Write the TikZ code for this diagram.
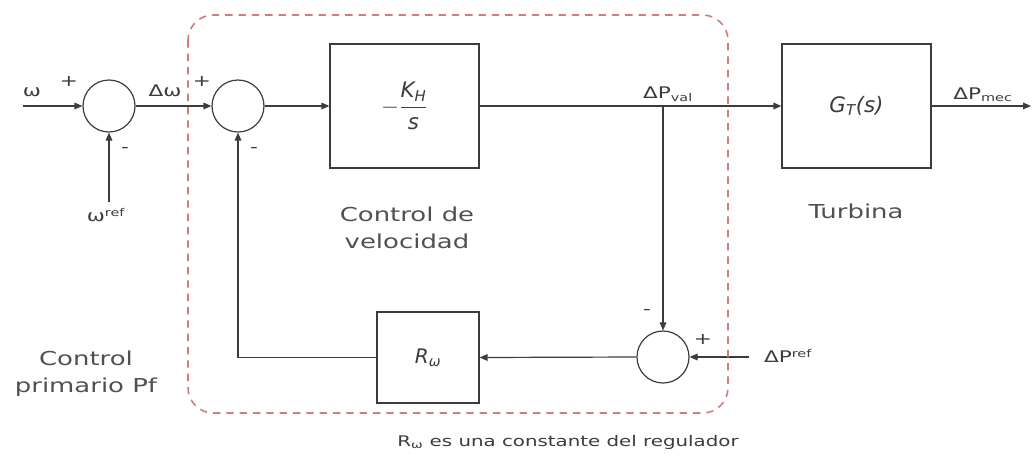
\documentclass[tikz,border=0pt]{standalone}
\usepackage{amsmath}
\usepackage{fontspec}
\setmainfont{DejaVu Sans}[FakeStretch=1.35]
\newfontfamily\blkfont{DejaVu Sans}
\usetikzlibrary{arrows.meta}
\definecolor{wire}{HTML}{3C3C3C}
\definecolor{txt}{HTML}{505050}
\definecolor{zone}{HTML}{D47C7C}

\begin{document}
\begin{tikzpicture}[x=0.75pt, y=-0.75pt, line width=0.9pt, color=wire,
  blk/.style={draw=wire, rectangle, minimum width=111.75pt, minimum height=93pt},
  sm/.style={draw=wire, circle, minimum size=39pt, inner sep=0pt},
  a/.style={-{Triangle[length=6pt,width=5pt]}},
  sig/.style={font=\fontsize{12}{14}\selectfont, text=wire},
  sgn/.style={font=\fontsize{12}{14}\selectfont, text=wire},
  lbl/.style={font=\fontsize{14.4}{20}\selectfont, text=txt, align=center}]

  \useasboundingbox (0,0) rectangle (1032,455);

  % summing points
  \node[sm] (sumA) at (109,106) {};
  \node[sm] (sumB) at (238,106) {};
  \node[sm] (sumC) at (663,357) {};

  % blocks
  \node[blk] (kh) at (404.5,106)
    {\blkfont\itshape\fontsize{16}{18}\selectfont $-\dfrac{\text{K}_{\text{H}}}{\text{s}}$};
  \node[blk] (gt) at (856.5,106)
    {\blkfont\itshape\fontsize{16}{18}\selectfont G\textsubscript{T}(s)};
  \node[blk, minimum width=76.5pt, minimum height=68.25pt] (rw) at (428,357.5)
    {\blkfont\itshape\fontsize{15}{18}\selectfont R\textsubscript{ω}};

  % free ends of the signals
  \coordinate (win) at (23,106);
  \coordinate (wref) at (109,202);
  \coordinate (tap) at (663,106);
  \coordinate (pref) at (749,357);
  \coordinate (pmec) at (1031,106);

  % forward path
  \draw[a] (win) -- (sumA.west);
  \draw[a] (wref) -- (sumA.south);
  \draw[a] (sumA.east) -- (sumB.west);
  \draw[a] (sumB.east) -- (kh.west);
  \draw[a] (kh.east) -- (gt.west);
  \draw[a] (gt.east) -- (pmec);

  % droop feedback
  \draw[a] (tap) -- (sumC.north);
  \draw[a] (pref) -- (sumC.east);
  \draw[a] (sumC.west) -- (rw.east);
  \draw[a] (rw.west) -| (sumB.south);

  % signal labels
  \node[sig] (lw) at (32,92) {ω};
  \node[sig] (ldw) at (165,91) {Δω};
  \node[sig] (lwref) at (106,215) {ω\textsuperscript{ref}};
  \node[sig] (lpval) at (668,94) {ΔP\textsubscript{val}};
  \node[sig] (lpmec) at (983,95) {ΔP\textsubscript{mec}};
  \node[sig] (lpref) at (788,356) {ΔP\textsuperscript{ref}};

  % signs at the summing points
  \node[sgn] (pA) at (69,81) {+};
  \node[sgn] (mA) at (125,150) {-};
  \node[sgn] (pB) at (202,81) {+};
  \node[sgn] (mB) at (254,150) {-};
  \node[sgn] (mC) at (647,312) {-};
  \node[sgn] (pC) at (703,339) {+};

  % block captions
  \node[lbl] (cvel) at (407,228) {Control de\\velocidad};
  \node[lbl] (ctur) at (856,211) {Turbina};
  \node[lbl] (cpf) at (86,374) {Control\\primario Pf};

  % primary control zone
  \draw[zone, line width=1.2pt, dash pattern=on 5.5pt off 4.5pt, rounded corners=19pt]
    (188,15) rectangle (728,413);
  \node[font=\fontsize{11}{13}\selectfont, text=wire] (note) at (568,442)
    {R\textsubscript{ω} es una constante del regulador};

\end{tikzpicture}
\end{document}
